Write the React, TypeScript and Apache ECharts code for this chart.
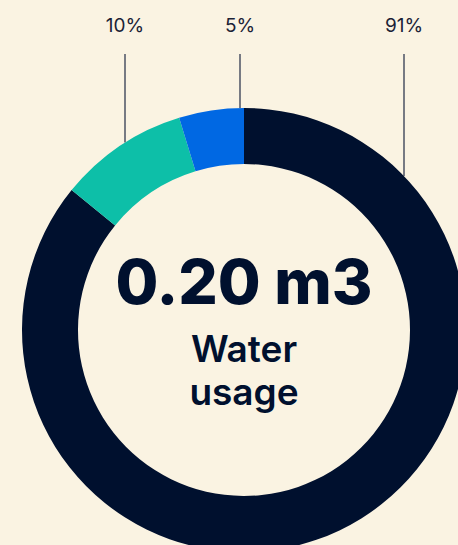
import React, { useEffect, useRef } from "react";
import * as echarts from "echarts";

const categories = ["Other", "Segment B", "Segment A"];
const values = [91, 10, 5];
const colors = ["#00102E", "#0DBFA8", "#0068E3"];
const centerValue = "0.20 m3";
const centerLabel = ["Water", "usage"];

const CX = 244;
const CY = 330;
const R_OUT = 222;
const R_IN = 166;
const LABEL_X = [404, 125, 240];
const LABEL_Y = 25;
const LINE_TOP = 54;

export default function App() {
  const ref = useRef<HTMLDivElement>(null);
  useEffect(() => {
    document.body.style.margin = "0";
    document.body.style.background = "#FAF3E2";
    const chart = echarts.init(ref.current!, undefined, { renderer: "svg" });
    chart.setOption({
      animation: false,
      backgroundColor: "#FAF3E2",
      series: [
        {
          type: "pie",
          center: [CX, CY],
          radius: [R_IN, R_OUT],
          startAngle: 90,
          clockwise: true,
          silent: true,
          data: categories.map((name, i) => ({
            name,
            value: values[i],
            itemStyle: { color: colors[i] },
          })),
          label: {
            show: true,
            formatter: "{c}%",
            color: "#1B2236",
            fontFamily: "Inter",
            fontSize: 19,
            fontWeight: 400,
          },
          labelLine: {
            show: true,
            lineStyle: { color: "#4B5263", width: 1.5 },
          },
          labelLayout: (params: any) => {
            const i = params.dataIndex;
            const x = LABEL_X[i];
            const dx = x - CX;
            const yEdge = CY - Math.sqrt(R_OUT * R_OUT - dx * dx);
            return {
              x,
              y: LABEL_Y,
              align: "center",
              verticalAlign: "middle",
              labelLinePoints: [
                [x, yEdge],
                [x, (yEdge + LINE_TOP) / 2],
                [x, LINE_TOP],
              ],
            };
          },
        },
      ],
      graphic: [
        {
          type: "text",
          x: CX,
          y: 281,
          style: {
            text: centerValue,
            fill: "#00102E",
            font: "800 62px Inter",
            align: "center",
            verticalAlign: "middle",
          },
        },
        {
          type: "text",
          x: CX,
          y: 348,
          style: {
            text: centerLabel[0],
            fill: "#00102E",
            font: "600 37px Inter",
            align: "center",
            verticalAlign: "middle",
          },
        },
        {
          type: "text",
          x: CX,
          y: 391,
          style: {
            text: centerLabel[1],
            fill: "#00102E",
            font: "600 37px Inter",
            align: "center",
            verticalAlign: "middle",
          },
        },
      ],
    });
    return () => chart.dispose();
  }, []);
  return <div ref={ref} style={{ width: 458, height: 545 }} />;
}
